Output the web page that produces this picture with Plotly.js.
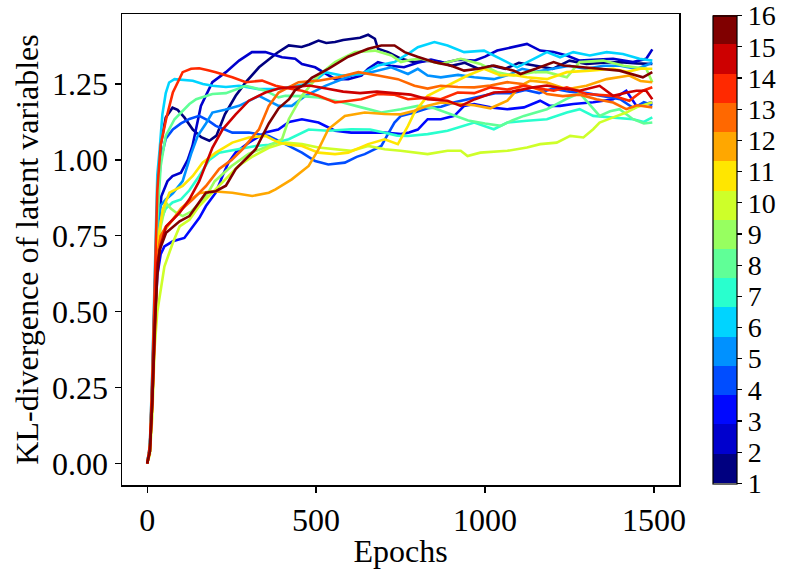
<!DOCTYPE html>
<html>
<head>
<meta charset="utf-8">
<script src="https://cdn.plot.ly/plotly-3.0.1.min.js"></script>
<style>
html,body{margin:0;padding:0;background:#fff;}
#chart{width:789px;height:570px;}
</style>
</head>
<body>
<div id="chart"></div>
<script>
// ---- data ----
const seriesLabels = [1,2,3,4,5,6,7,8,9,10,11,12,13,14,15,16];
const colorbarTicks = [1,2,3,4,5,6,7,8,9,10,11,12,13,14,15,16];
const xTicks = [0, 500, 1000, 1500];
const yTicks = [0, 0.25, 0.5, 0.75, 1.0, 1.25];

const epochs1 = [0,8,15,22,30,40,55,75,90,110,135,160,184,205,230,262,292,331,360,384,419,457,480,507,530,556,580,604,630,654,674,683,713,752,791,830,869,900,940,980,1020,1060,1100,1150,1200,1250,1300,1350,1400,1450,1495];
const kl1 = [0,0.05,0.25,0.55,0.85,1.05,1.14,1.172,1.165,1.14,1.10,1.075,1.063,1.08,1.15,1.211,1.256,1.305,1.33,1.352,1.377,1.372,1.38,1.393,1.385,1.388,1.395,1.399,1.402,1.412,1.399,1.366,1.355,1.333,1.322,1.327,1.322,1.31,1.32,1.30,1.31,1.30,1.32,1.31,1.30,1.327,1.316,1.32,1.322,1.318,1.316];

const epochs2 = [0,8,15,22,30,42,60,75,100,120,134,159,193,233,272,310,350,380,399,438,458,497,536,556,595,634,654,683,720,760,800,840,880,920,968,1000,1036,1085,1124,1163,1203,1242,1280,1320,1379,1438,1477,1495];
const kl2 = [0,0.05,0.22,0.5,0.75,0.88,0.93,0.947,0.958,1.0,1.046,1.178,1.256,1.289,1.327,1.355,1.355,1.345,1.338,1.333,1.316,1.305,1.278,1.266,1.266,1.278,1.30,1.322,1.31,1.305,1.32,1.33,1.32,1.33,1.327,1.34,1.36,1.371,1.382,1.36,1.355,1.344,1.327,1.33,1.333,1.322,1.333,1.364];

const epochs3 = [0,8,15,22,30,40,51,76,110,135,155,174,203,223,240,262,301,350,388,420,458,507,556,604,654,703,751,775,801,830,869,909,938,968,1016,1066,1115,1163,1192,1222,1261,1320,1379,1418,1448,1495];
const kl3 = [0,0.04,0.2,0.45,0.62,0.69,0.715,0.732,0.743,0.781,0.81,0.848,0.892,0.947,0.99,1.025,1.057,1.09,1.10,1.125,1.134,1.123,1.096,1.09,1.09,1.09,1.085,1.09,1.10,1.134,1.134,1.145,1.178,1.184,1.173,1.167,1.173,1.195,1.178,1.178,1.184,1.19,1.2,1.228,1.178,1.19];

const epochs4 = [0,8,15,22,30,40,55,76,100,125,154,180,203,230,252,301,360,419,458,497,536,585,620,644,693,715,732,751,791,830,870,910,950,990,1030,1080,1120,1160,1200,1250,1300,1350,1400,1440,1470,1495];
const kl4 = [0,0.05,0.25,0.55,0.85,1.0,1.07,1.10,1.12,1.135,1.145,1.13,1.112,1.10,1.09,1.09,1.079,1.046,1.024,0.996,0.985,0.991,1.01,1.019,1.046,1.09,1.123,1.145,1.156,1.17,1.175,1.19,1.20,1.21,1.22,1.22,1.23,1.22,1.235,1.225,1.22,1.21,1.20,1.17,1.19,1.18];

const epochs5 = [0,8,15,22,30,40,55,76,105,130,150,174,193,230,272,331,389,428,468,527,605,663,722,772,801,830,869,920,968,1026,1070,1110,1150,1200,1250,1300,1350,1400,1450,1495];
const kl5 = [0,0.05,0.24,0.52,0.78,0.85,0.87,0.89,0.93,1.02,1.08,1.12,1.156,1.165,1.178,1.211,1.178,1.178,1.211,1.244,1.278,1.289,1.305,1.283,1.30,1.278,1.272,1.28,1.272,1.266,1.28,1.30,1.29,1.30,1.31,1.30,1.31,1.31,1.30,1.32];

const epochs6 = [0,8,15,22,30,37,45,55,65,81,110,135,165,193,233,272,331,380,420,470,507,527,576,634,683,732,780,801,850,889,938,997,1046,1095,1144,1183,1222,1261,1310,1360,1408,1457,1495];
const kl6 = [0,0.06,0.3,0.65,0.95,1.035,1.15,1.22,1.255,1.266,1.262,1.261,1.25,1.244,1.24,1.244,1.233,1.233,1.24,1.25,1.27,1.289,1.278,1.283,1.311,1.322,1.355,1.371,1.388,1.377,1.355,1.36,1.333,1.305,1.333,1.355,1.338,1.355,1.344,1.355,1.349,1.333,1.327];

const epochs7 = [0,8,15,22,30,40,55,75,100,125,154,184,213,240,272,321,360,419,478,536,604,660,700,740,772,830,889,930,968,1026,1066,1124,1183,1242,1280,1320,1380,1438,1470,1495];
const kl7 = [0,0.05,0.22,0.5,0.72,0.80,0.84,0.86,0.87,0.90,0.947,1.0,1.024,1.03,1.035,1.046,1.05,1.068,1.10,1.096,1.101,1.10,1.09,1.08,1.079,1.085,1.096,1.11,1.123,1.101,1.123,1.129,1.134,1.156,1.167,1.145,1.14,1.134,1.125,1.14];

const epochs8 = [0,8,15,22,30,40,55,81,105,125,145,193,233,292,350,389,409,458,507,576,634,693,751,801,850,900,950,1000,1046,1080,1115,1183,1240,1280,1310,1339,1370,1398,1438,1470,1495];
const kl8 = [0,0.05,0.25,0.55,0.8,0.98,1.08,1.134,1.16,1.184,1.2,1.217,1.22,1.244,1.228,1.206,1.211,1.21,1.206,1.19,1.173,1.156,1.167,1.178,1.17,1.15,1.13,1.12,1.112,1.13,1.145,1.167,1.20,1.22,1.18,1.145,1.16,1.167,1.134,1.12,1.123];

const epochs9 = [0,8,15,22,30,40,56,70,86,105,130,174,200,250,300,360,399,419,458,507,556,615,674,723,751,780,810,869,928,986,1036,1085,1144,1183,1242,1280,1350,1410,1477,1495];
const kl9 = [0,0.04,0.2,0.45,0.65,0.78,0.859,0.84,0.826,0.815,0.83,0.88,0.93,0.98,1.02,1.046,1.068,1.134,1.211,1.278,1.322,1.355,1.36,1.344,1.322,1.33,1.333,1.316,1.333,1.316,1.289,1.278,1.289,1.289,1.272,1.322,1.327,1.31,1.30,1.256];

const epochs10 = [0,8,15,22,30,37,51,76,96,125,154,193,233,270,310,360,409,458,507,556,604,654,703,750,801,830,889,928,948,986,1066,1124,1163,1212,1252,1291,1320,1339,1379,1418,1448,1477,1495];
const kl10 = [0,0.03,0.15,0.38,0.5,0.55,0.649,0.727,0.781,0.803,0.848,0.892,0.936,0.98,1.01,1.04,1.057,1.052,1.041,1.035,1.03,1.046,1.035,1.03,1.024,1.019,1.03,1.03,1.013,1.024,1.03,1.041,1.052,1.057,1.079,1.074,1.101,1.123,1.14,1.156,1.173,1.184,1.19];

const epochs11 = [0,8,15,22,30,46,66,105,135,164,203,252,301,350,389,420,458,507,556,595,654,703,742,772,791,830,889,948,997,1046,1085,1124,1183,1242,1310,1379,1420,1460,1495];
const kl11 = [0,0.04,0.2,0.48,0.72,0.837,0.892,0.914,0.947,0.991,1.024,1.057,1.074,1.079,1.057,1.05,1.046,1.024,1.019,1.024,1.052,1.068,1.052,1.112,1.156,1.211,1.244,1.278,1.30,1.278,1.28,1.272,1.266,1.289,1.294,1.30,1.29,1.30,1.30];

const epochs12 = [0,8,15,22,30,40,60,100,130,154,193,252,311,360,380,428,478,507,536,585,644,703,750,791,830,869,928,968,1016,1066,1105,1134,1183,1242,1300,1360,1427,1460,1495];
const kl12 = [0,0.04,0.2,0.46,0.68,0.75,0.78,0.84,0.87,0.89,0.897,0.892,0.881,0.892,0.903,0.936,0.98,1.035,1.101,1.145,1.156,1.151,1.15,1.162,1.178,1.189,1.184,1.18,1.17,1.195,1.244,1.261,1.255,1.233,1.244,1.266,1.278,1.26,1.256];

const epochs13 = [0,8,15,22,30,40,55,76,105,135,174,213,250,282,331,360,389,448,507,566,625,683,742,791,830,869,920,968,1016,1066,1110,1163,1183,1230,1280,1330,1379,1418,1450,1495];
const kl13 = [0,0.04,0.2,0.46,0.68,0.75,0.78,0.803,0.84,0.87,0.914,0.97,1.0,1.035,1.101,1.178,1.222,1.256,1.261,1.272,1.289,1.278,1.266,1.244,1.235,1.244,1.24,1.239,1.245,1.256,1.25,1.23,1.217,1.21,1.215,1.2,1.189,1.167,1.18,1.173];

const epochs14 = [0,8,15,22,30,40,56,76,105,130,154,180,203,252,292,340,380,420,458,507,556,600,634,683,730,772,830,869,919,968,1016,1066,1115,1160,1203,1242,1300,1379,1427,1467,1495];
const kl14 = [0,0.06,0.28,0.6,0.9,1.05,1.134,1.222,1.289,1.30,1.302,1.295,1.289,1.272,1.256,1.261,1.244,1.235,1.228,1.211,1.189,1.195,1.2,1.217,1.215,1.2,1.205,1.2,1.222,1.22,1.239,1.232,1.244,1.235,1.228,1.239,1.217,1.211,1.195,1.228,1.239];

const epochs15 = [0,8,15,22,30,40,56,96,125,154,193,223,262,301,350,389,430,480,530,580,630,680,730,780,830,889,928,970,1026,1080,1144,1183,1230,1280,1339,1379,1420,1448,1477,1495];
const kl15 = [0,0.04,0.2,0.45,0.66,0.72,0.781,0.826,0.870,0.93,1.04,1.10,1.15,1.195,1.222,1.235,1.24,1.245,1.235,1.225,1.22,1.225,1.22,1.215,1.20,1.195,1.178,1.2,1.222,1.225,1.239,1.245,1.235,1.228,1.244,1.211,1.222,1.228,1.228,1.20];

const epochs16 = [0,8,15,22,30,37,56,96,125,154,174,203,233,262,290,321,360,389,420,438,468,487,536,595,654,693,732,762,800,850,900,938,980,1026,1085,1105,1150,1203,1232,1281,1339,1398,1440,1467,1495];
const kl16 = [0,0.04,0.2,0.45,0.62,0.704,0.76,0.798,0.815,0.859,0.892,0.897,0.915,0.97,1.0,1.035,1.12,1.17,1.2,1.23,1.25,1.27,1.30,1.34,1.366,1.377,1.377,1.355,1.34,1.322,1.31,1.294,1.30,1.311,1.294,1.283,1.30,1.322,1.311,1.305,1.30,1.294,1.28,1.272,1.289];

const epochsList = [epochs1,epochs2,epochs3,epochs4,epochs5,epochs6,epochs7,epochs8,epochs9,epochs10,epochs11,epochs12,epochs13,epochs14,epochs15,epochs16];
const klList = [kl1,kl2,kl3,kl4,kl5,kl6,kl7,kl8,kl9,kl10,kl11,kl12,kl13,kl14,kl15,kl16];

// ---- matplotlib "jet" colormap ----
function interp(pts, t){
  for (let i=0;i<pts.length-1;i++){
    const [x0,y0]=pts[i],[x1,y1]=pts[i+1];
    if (t>=x0 && t<=x1){ return y0 + (y1-y0)*(t-x0)/(x1-x0); }
  }
  return pts[pts.length-1][1];
}
function jet(t){
  const r = interp([[0,0],[0.35,0],[0.66,1],[0.89,1],[1,0.5]], t);
  const g = interp([[0,0],[0.125,0],[0.375,1],[0.64,1],[0.91,0],[1,0]], t);
  const b = interp([[0,0.5],[0.11,1],[0.34,1],[0.65,0],[1,0]], t);
  const h = v => Math.round(Math.max(0,Math.min(1,v))*255);
  return 'rgb('+h(r)+','+h(g)+','+h(b)+')';
}
const N = seriesLabels.length;
const colors = seriesLabels.map((s,i)=>jet(i/(N-1)));

const FONT = 'Liberation Serif, Times New Roman, serif';
const FS = 32;
const CBFS = 28;

const traces = klList.map((kl,i)=>({
  type:'scatter', mode:'lines',
  x: epochsList[i], y: kl,
  name: String(seriesLabels[i]),
  line:{color: colors[i], width: 2.6},
  showlegend:false, hoverinfo:'skip'
}));

// discrete colorscale for the colorbar
const cs = [];
colors.forEach((c,k)=>{ cs.push([k/N, c]); cs.push([(k+1)/N, c]); });

const cLo = seriesLabels[0] - 0.002, cHi = seriesLabels[N-1] + 0.002;
traces.push({
  type:'scatter', mode:'markers',
  x:[-5000,-5000], y:[-5,-5],
  showlegend:false, hoverinfo:'skip',
  marker:{
    color:[cLo, cHi],
    cmin: cLo, cmax: cHi,
    colorscale: cs, size:1,
    showscale:true,
    colorbar:{
      x:1.0606, xanchor:'left', xpad:0,
      y:0.5, yanchor:'middle', ypad:0,
      len:0.994, lenmode:'fraction',
      thickness:24, thicknessmode:'pixels',
      outlinewidth:1.2, outlinecolor:'#000',
      tickmode:'array', tickvals: colorbarTicks, ticktext: colorbarTicks.map(String),
      ticks:'outside', ticklen:5, tickwidth:1.2, tickcolor:'#000',
      ticklabeloverflow:'allow',
      tickfont:{family:FONT, size:CBFS, color:'#000'}
    }
  }
});

const layout = {
  width:789, height:570,
  margin:{l:122, r:106, t:14, b:85},
  paper_bgcolor:'#fff', plot_bgcolor:'#fff',
  font:{family:FONT, color:'#000', size:FS},
  xaxis:{
    range:[-74.5, 1574], tickmode:'array', tickvals:xTicks,
    ticks:'outside', ticklen:6, tickwidth:1.3, tickcolor:'#000',
    showline:true, mirror:true, linecolor:'#000', linewidth:1.5,
    showgrid:false, zeroline:false,
    tickfont:{family:FONT, size:FS, color:'#000'},
    title:{text:'Epochs', font:{family:FONT, size:FS, color:'#000'}, standoff:2}
  },
  yaxis:{
    range:[-0.0705, 1.4805], tickmode:'array', tickvals:yTicks,
    tickformat:'.2f',
    ticks:'outside', ticklen:6, tickwidth:1.3, tickcolor:'#000',
    showline:true, mirror:true, linecolor:'#000', linewidth:1.5,
    showgrid:false, zeroline:false,
    tickfont:{family:FONT, size:FS, color:'#000'},
    title:{text:'KL-divergence of latent variables', font:{family:FONT, size:FS, color:'#000'}, standoff:4}
  }
};

Plotly.newPlot('chart', traces, layout, {displayModeBar:false, staticPlot:true});
</script>
</body>
</html>
